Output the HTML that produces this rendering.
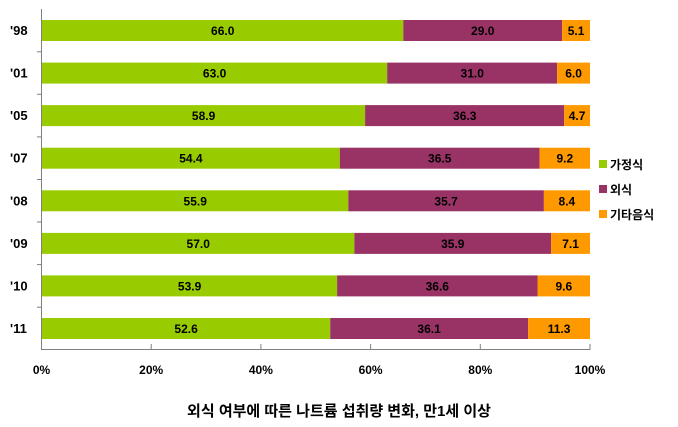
<!DOCTYPE html>
<html><head><meta charset="utf-8"><style>body{margin:0;background:#fff}svg{display:block}</style></head><body>
<svg width="678" height="427" xmlns="http://www.w3.org/2000/svg" font-family="'Liberation Sans','Noto Sans CJK KR',sans-serif">
<g font-size="13" font-weight="bold">
<text x="10" y="35">'98</text><text x="10" y="77.6">'01</text><text x="10" y="120.1">'05</text><text x="10" y="162.7">'07</text>
<text x="10" y="205.3">'08</text><text x="10" y="247.9">'09</text><text x="10" y="290.4">'10</text><text x="10" y="333">'11</text>
</g>
<g>
<rect x="42" y="20" width="361.3" height="21" fill="#99CC00"/><rect x="403.3" y="20" width="158.8" height="21" fill="#993366"/><rect x="562.1" y="20" width="27.9" height="21" fill="#FF9900"/>
<rect x="42" y="62.6" width="345.2" height="21" fill="#99CC00"/><rect x="387.2" y="62.6" width="169.9" height="21" fill="#993366"/><rect x="557.1" y="62.6" width="32.9" height="21" fill="#FF9900"/>
<rect x="42" y="105.1" width="323.1" height="21" fill="#99CC00"/><rect x="365.1" y="105.1" width="199.1" height="21" fill="#993366"/><rect x="564.2" y="105.1" width="25.8" height="21" fill="#FF9900"/>
<rect x="42" y="147.7" width="297.8" height="21" fill="#99CC00"/><rect x="339.8" y="147.7" width="199.8" height="21" fill="#993366"/><rect x="539.6" y="147.7" width="50.4" height="21" fill="#FF9900"/>
<rect x="42" y="190.3" width="306.3" height="21" fill="#99CC00"/><rect x="348.3" y="190.3" width="195.6" height="21" fill="#993366"/><rect x="543.9" y="190.3" width="46.1" height="21" fill="#FF9900"/>
<rect x="42" y="232.9" width="312.4" height="21" fill="#99CC00"/><rect x="354.4" y="232.9" width="196.7" height="21" fill="#993366"/><rect x="551.1" y="232.9" width="38.9" height="21" fill="#FF9900"/>
<rect x="42" y="275.4" width="295.1" height="21" fill="#99CC00"/><rect x="337.1" y="275.4" width="200.4" height="21" fill="#993366"/><rect x="537.5" y="275.4" width="52.5" height="21" fill="#FF9900"/>
<rect x="42" y="318" width="288.2" height="21" fill="#99CC00"/><rect x="330.2" y="318" width="197.9" height="21" fill="#993366"/><rect x="528.1" y="318" width="61.9" height="21" fill="#FF9900"/>
</g>
<g font-size="12" font-weight="bold" text-anchor="middle">
<text x="222.7" y="35">66.0</text><text x="482.7" y="35">29.0</text><text x="576.1" y="35">5.1</text>
<text x="214.6" y="77.6">63.0</text><text x="472.2" y="77.6">31.0</text><text x="573.6" y="77.6">6.0</text>
<text x="203.6" y="120.1">58.9</text><text x="464.7" y="120.1">36.3</text><text x="577.1" y="120.1">4.7</text>
<text x="190.9" y="162.7">54.4</text><text x="439.7" y="162.7">36.5</text><text x="564.8" y="162.7">9.2</text>
<text x="195.2" y="205.3">55.9</text><text x="446.1" y="205.3">35.7</text><text x="566.9" y="205.3">8.4</text>
<text x="198.2" y="247.9">57.0</text><text x="452.8" y="247.9">35.9</text><text x="570.6" y="247.9">7.1</text>
<text x="189.6" y="290.4">53.9</text><text x="437.3" y="290.4">36.6</text><text x="563.8" y="290.4">9.6</text>
<text x="186.1" y="333">52.6</text><text x="429.1" y="333">36.1</text><text x="559.1" y="333">11.3</text>
</g>
<line x1="41.5" y1="9" x2="41.5" y2="349.5" stroke="#808080"/>
<line x1="41" y1="349.5" x2="590.5" y2="349.5" stroke="#808080"/>
<g stroke="#808080">
<line x1="37" x2="41" y1="51.8" y2="51.8"/><line x1="37" x2="41" y1="94.3" y2="94.3"/><line x1="37" x2="41" y1="136.9" y2="136.9"/><line x1="37" x2="41" y1="179.5" y2="179.5"/><line x1="37" x2="41" y1="222" y2="222"/><line x1="37" x2="41" y1="264.6" y2="264.6"/><line x1="37" x2="41" y1="307.2" y2="307.2"/>
<line x1="151.2" x2="151.2" y1="349" y2="344"/><line x1="260.9" x2="260.9" y1="349" y2="344"/><line x1="370.6" x2="370.6" y1="349" y2="344"/><line x1="480.3" x2="480.3" y1="349" y2="344"/><line x1="590" x2="590" y1="349" y2="344"/>
</g>
<g font-size="12" font-weight="bold" text-anchor="middle">
<text x="41.5" y="374">0%</text><text x="151.2" y="374">20%</text><text x="260.9" y="374">40%</text><text x="370.6" y="374">60%</text><text x="480.3" y="374">80%</text><text x="590" y="374">100%</text>
</g>
<rect x="599" y="160" width="8" height="8" fill="#99CC00"/><rect x="599" y="185" width="8" height="8" fill="#993366"/><rect x="599" y="210" width="8" height="8" fill="#FF9900"/>
<g font-size="12" font-weight="bold"><text x="610" y="169">가정식</text><text x="610" y="194">외식</text><text x="610" y="219">기타음식</text></g>
<text x="339" y="416" font-size="15" font-weight="bold" text-anchor="middle">외식 여부에 따른 나트륨 섭취량 변화, 만1세 이상</text>
</svg>
</body></html>
